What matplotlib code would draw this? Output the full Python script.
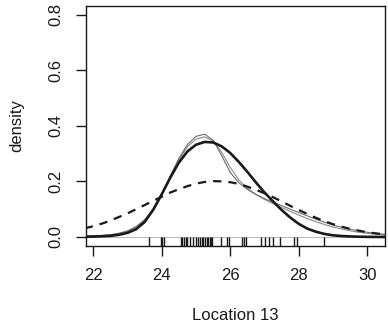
import matplotlib
matplotlib.use("Agg")
import matplotlib.pyplot as plt

plt.rcParams['font.family'] = ['Liberation Sans', 'DejaVu Sans']
plt.rcParams['lines.scale_dashes'] = False

# evaluation grid shared by all density curves
grid_x = [21.75, 22.0, 22.25, 22.5, 22.75, 23.0, 23.25, 23.5, 23.75, 24.0,
          24.25, 24.5, 24.75, 25.0, 25.25, 25.5, 25.75, 26.0, 26.25, 26.5,
          26.75, 27.0, 27.25, 27.5, 27.75, 28.0, 28.25, 28.5, 28.75, 29.0,
          29.25, 29.5, 29.75, 30.0, 30.25, 30.5]

# heavy smooth density
dens_main = [0.001, 0.0015, 0.0025, 0.004, 0.008, 0.015, 0.028, 0.054, 0.098, 0.154,
             0.214, 0.268, 0.308, 0.332, 0.342, 0.340, 0.326, 0.302, 0.270, 0.234,
             0.196, 0.160, 0.128, 0.097, 0.070, 0.047, 0.030, 0.019, 0.011, 0.006,
             0.0035, 0.002, 0.001, 0.0005, 0.0002, 0.0001]

# kernel estimate, narrow bandwidth
dens_kde_a = [0.003, 0.004, 0.006, 0.008, 0.013, 0.022, 0.037, 0.062, 0.101, 0.156,
              0.220, 0.283, 0.333, 0.362, 0.370, 0.348, 0.292, 0.232, 0.195, 0.171,
              0.153, 0.138, 0.125, 0.113, 0.100, 0.088, 0.076, 0.064, 0.053, 0.043,
              0.035, 0.028, 0.022, 0.017, 0.013, 0.010]

# kernel estimate, second variant
dens_kde_b = [0.002, 0.003, 0.005, 0.008, 0.013, 0.021, 0.036, 0.060, 0.099, 0.153,
              0.216, 0.278, 0.325, 0.352, 0.360, 0.346, 0.304, 0.250, 0.205, 0.175,
              0.153, 0.135, 0.120, 0.106, 0.092, 0.079, 0.066, 0.055, 0.045, 0.036,
              0.029, 0.022, 0.017, 0.013, 0.010, 0.007]

# wide reference density (dashed)
dens_wide = [0.031, 0.039, 0.048, 0.059, 0.072, 0.085, 0.100, 0.115, 0.130, 0.145,
             0.160, 0.172, 0.183, 0.192, 0.198, 0.201, 0.200, 0.197, 0.191, 0.181,
             0.170, 0.157, 0.143, 0.128, 0.112, 0.097, 0.083, 0.069, 0.057, 0.046,
             0.037, 0.029, 0.023, 0.017, 0.013, 0.010]

# observations shown as a rug
obs = [23.64, 23.97, 24.02, 24.05, 24.55, 24.60, 24.65, 24.70, 24.74, 24.81,
       24.91, 24.99, 25.07, 25.12, 25.17, 25.21, 25.27, 25.31, 25.35, 25.40,
       25.44, 25.47, 25.73, 25.91, 25.96, 26.35, 26.40, 26.45, 26.90, 27.02,
       27.12, 27.25, 27.46, 27.85, 27.95, 28.75]

x_ticks = [22, 24, 26, 28, 30]
y_ticks = [0.0, 0.2, 0.4, 0.6, 0.8]
y_tick_labels = ["0.0", "0.2", "0.4", "0.6", "0.8"]

ink = '#1a1a1a'
W, H = 388, 324
fig = plt.figure(figsize=(W / 100, H / 100), dpi=100)
ax = fig.add_axes([85.7 / W, 1 - 246 / H, (385 - 85.7) / W, (246 - 5.7) / H])

ax.axhline(0, color='#bdbdbd', lw=0.8, zorder=1)
ax.plot(grid_x, dens_wide, color=ink, lw=1.6, dashes=(6, 5), zorder=3)
ax.plot(grid_x, dens_kde_b, color='#8a8a8a', lw=0.8, zorder=2)
ax.plot(grid_x, dens_kde_a, color='#6e6e6e', lw=0.8, zorder=2)
ax.plot(grid_x, dens_main, color=ink, lw=1.9, zorder=4)
ax.vlines(obs, 0, 0.038, transform=ax.get_xaxis_transform(), color=ink, lw=1.0)

ax.set_xlim(21.778, 30.517)
ax.set_ylim(-0.0324, 0.832)
ax.set_xticks(x_ticks)
ax.set_xticklabels([str(t) for t in x_ticks])
ax.set_yticks(y_ticks)
ax.set_yticklabels(y_tick_labels, rotation=90, va='center')

for s in ax.spines.values():
    s.set_linewidth(1.0)
    s.set_color(ink)
ax.tick_params(axis='both', direction='out', length=7, width=1.0, color=ink,
               labelsize=12, labelcolor=ink)
ax.tick_params(axis='x', pad=9)
ax.tick_params(axis='y', pad=9)

ax.set_xlabel("Location 13", fontsize=12, color=ink, va='center')
ax.xaxis.set_label_coords(0.5, (246 - 315) / 240.3)
ax.set_ylabel("density", fontsize=12, color=ink, va='center', ha='center')
ax.yaxis.set_label_coords((17 - 85.7) / 299.3, 0.5)

fig.savefig("out.png", dpi=100)
